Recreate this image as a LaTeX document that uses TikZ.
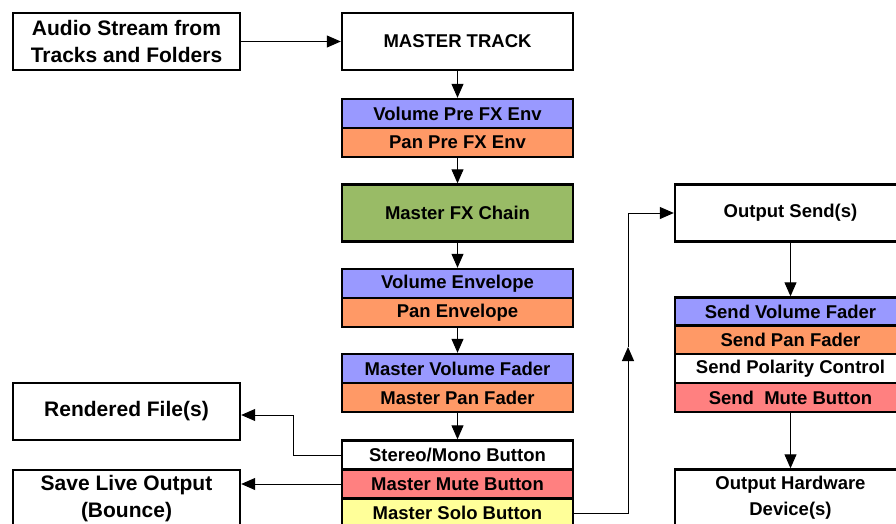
\documentclass[tikz,border=0pt]{standalone}
\usepackage{fontspec}
\setmainfont{Liberation Sans}
\usetikzlibrary{arrows.meta, positioning}

\definecolor{volblue}{HTML}{9999FF}
\definecolor{panorange}{HTML}{FF9966}
\definecolor{fxgreen}{HTML}{99BB66}
\definecolor{mutered}{HTML}{FF8080}
\definecolor{soloyellow}{HTML}{FFFF99}

\begin{document}
\begin{tikzpicture}[x=1pt, y=-1pt,
      box/.style={rectangle, draw, line width=2.4pt, fill=white, font=\fontsize{18.5}{26}\selectfont\bfseries, align=center, minimum width=227pt, minimum height=57pt, inner sep=0pt},
      sidebox/.style={box, font=\fontsize{21}{27}\selectfont\bfseries},
      mbox/.style={box, minimum width=231pt},
      cell/.style={mbox, minimum height=29pt},
      flow/.style={-{Triangle[length=14pt, width=12pt]}, line width=1pt},
    ]
      \useasboundingbox (0,0) rectangle (896,524);
      \clip (0,0) rectangle (896,524);

      % left column
      \node[sidebox] (audio) at (126.5,41.5) {Audio Stream from\\Tracks and Folders};
      \node[sidebox] (rendered) at (126.5,411.5) {Rendered File(s)};
      \node[sidebox] (bounce) at (126.5,498.5) {Save Live Output\\(Bounce)};

      % master column
      \node[mbox] (master) at (457.5,41.5) {MASTER TRACK};
      \node[cell, fill=volblue] (volpre) at (457.5,113.5) {Volume Pre FX Env};
      \node[cell, fill=panorange] (panpre) at (457.5,142.5) {Pan Pre FX Env};
      \node[mbox, fill=fxgreen] (fxchain) at (457.5,213) {Master FX Chain};
      \node[cell, fill=volblue] (volenv) at (457.5,283.5) {Volume Envelope};
      \node[cell, fill=panorange] (panenv) at (457.5,312.5) {Pan Envelope};
      \node[cell, fill=volblue] (volfader) at (457.5,368.5) {Master Volume Fader};
      \node[cell, fill=panorange] (panfader) at (457.5,397.5) {Master Pan Fader};
      \node[cell] (stereo) at (457.5,455) {Stereo/Mono Button};
      \node[cell, fill=mutered] (mute) at (457.5,484) {Master Mute Button};
      \node[cell, fill=soloyellow] (solo) at (457.5,513) {Master Solo Button};

      % send column
      \node[mbox] (sends) at (790.5,213) {Output Send(s)};
      \node[cell, fill=volblue] (sendvol) at (790.5,312) {Send Volume Fader};
      \node[cell, fill=panorange] (sendpan) at (790.5,340) {Send Pan Fader};
      \node[cell] (polarity) at (790.5,368.5) {Send Polarity Control};
      \node[cell, fill=mutered] (sendmute) at (790.5,397.5) {Send~ Mute Button};
      \node[mbox] (hardware) at (790.5,498) {Output Hardware\\Device(s)};

      \coordinate (renderbend) at (293,415);
      \coordinate (solobend) at (628,513);
      \coordinate (upmark) at (628,347);
      \coordinate (sendbend) at (628,213);

      \draw[flow] (audio) -- (master);
      \draw[flow] (master) -- (volpre);
      \draw[flow] (panpre) -- (fxchain);
      \draw[flow] (fxchain) -- (volenv);
      \draw[flow] (panenv) -- (volfader);
      \draw[flow] (panfader) -- (stereo);
      \draw[flow] (stereo.west) -| (renderbend) -- (rendered.east |- renderbend);
      \draw[flow] (mute.west) -- (bounce.east |- mute.west);
      \draw[flow] (solo.east) -- (solobend) -- (upmark);
      \draw[flow] (upmark) -- (sendbend) -- (sends.west);
      \draw[flow] (sends) -- (sendvol);
      \draw[flow] (sendmute) -- (hardware);
    \end{tikzpicture}
\end{document}
